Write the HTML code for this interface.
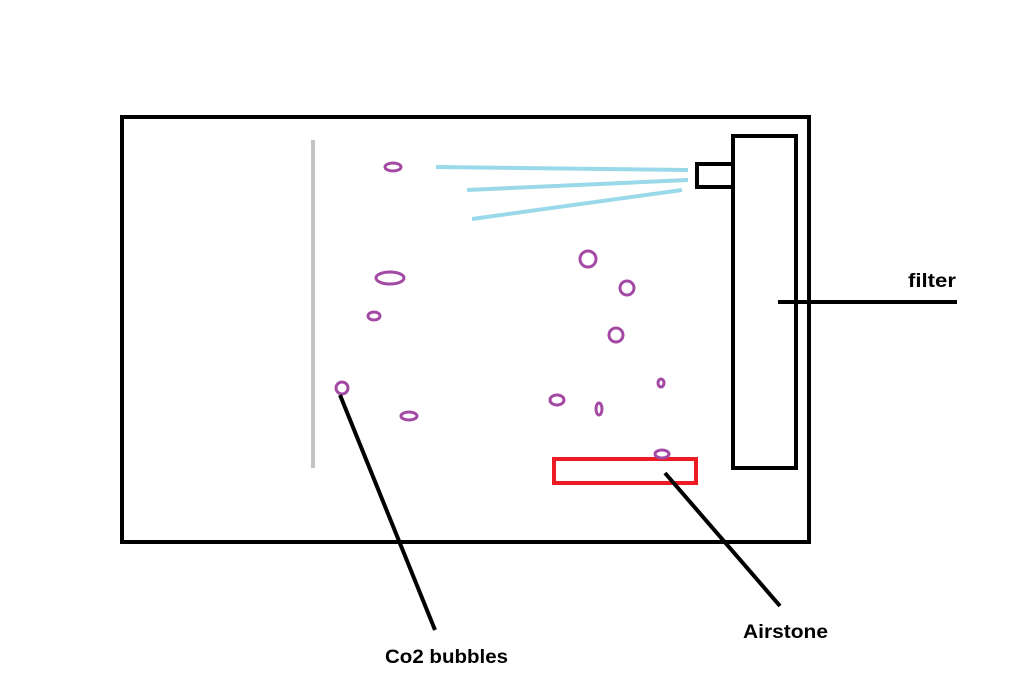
<!DOCTYPE html>
<html><head><meta charset="utf-8"><style>html,body{margin:0;padding:0;background:#fff}svg{display:block}</style></head>
<body>
<svg width="1014" height="693" viewBox="0 0 1014 693" xmlns="http://www.w3.org/2000/svg">
<rect x="0" y="0" width="1014" height="693" fill="#fff"/>
<rect x="122" y="117" width="687" height="425" fill="none" stroke="#000" stroke-width="4"/>
<rect x="733" y="136" width="63" height="332" fill="none" stroke="#000" stroke-width="4"/>
<rect x="697" y="164" width="36" height="23" fill="none" stroke="#000" stroke-width="4"/>
<line x1="313" y1="140" x2="313" y2="468" stroke="#c3c3c3" stroke-width="4"/>
<g stroke="#99d9ea" stroke-width="4">
<line x1="436" y1="167" x2="688" y2="170"/>
<line x1="467" y1="190" x2="688" y2="180"/>
<line x1="472" y1="219" x2="682" y2="190"/>
</g>
<rect x="554" y="459" width="142" height="24" fill="none" stroke="#ed1c24" stroke-width="4"/>
<g fill="none" stroke="#a349a4" stroke-width="3">
<ellipse cx="393" cy="167" rx="8" ry="4"/>
<ellipse cx="390" cy="278" rx="14" ry="6"/>
<ellipse cx="374" cy="316" rx="6" ry="4"/>
<ellipse cx="342" cy="388" rx="6" ry="6"/>
<ellipse cx="409" cy="416" rx="8" ry="4"/>
<ellipse cx="588" cy="259" rx="8" ry="8"/>
<ellipse cx="627" cy="288" rx="7" ry="7"/>
<ellipse cx="616" cy="335" rx="7" ry="7"/>
<ellipse cx="661" cy="383" rx="3" ry="4"/>
<ellipse cx="557" cy="400" rx="7" ry="5"/>
<ellipse cx="599" cy="409" rx="3" ry="6"/>
<ellipse cx="662" cy="454" rx="7" ry="4"/>
</g>
<g stroke="#000" stroke-width="4">
<line x1="778" y1="302" x2="957" y2="302"/>
<line x1="665" y1="473" x2="780" y2="606"/>
<line x1="340" y1="395" x2="435" y2="630"/>
</g>
<g font-family="Liberation Sans, sans-serif" font-weight="bold" font-size="19" fill="#000">
<text x="908" y="287" textLength="48" lengthAdjust="spacingAndGlyphs">filter</text>
<text x="743" y="638" textLength="85" lengthAdjust="spacingAndGlyphs">Airstone</text>
<text x="385" y="663" textLength="123" lengthAdjust="spacingAndGlyphs">Co2 bubbles</text>
</g>
</svg>
</body></html>
